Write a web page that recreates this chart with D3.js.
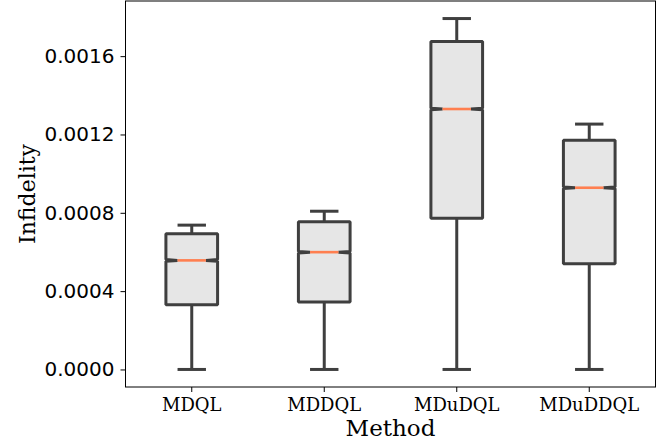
<!DOCTYPE html>
<html><head><meta charset="utf-8">
<script src="https://cdn.jsdelivr.net/npm/d3@7"></script>
<style>body{margin:0;background:#fff}svg{display:block}</style>
</head><body>
<script>
const categories = ["MDQL", "MDDQL", "MDuDQL", "MDuDDQL"];
const whiskerLow = [0, 0, 0, 0];
const q1 = [0.000330, 0.000344, 0.000772, 0.000540];
const median = [0.000557, 0.000599, 0.001330, 0.000928];
const q3 = [0.000693, 0.000754, 0.001675, 0.001171];
const whiskerHigh = [0.000737, 0.000808, 0.001792, 0.001253];
const notchHalf = [0.000004, 0.000004, 0.000004, 0.000004];
const yTicks = [0, 0.0004, 0.0008, 0.0012, 0.0016];

const W = 672, H = 443;
const mLeft = 125.5, mRight = 655.5, mTop = 1, mBottom = 387;
const svg = d3.select("body").append("svg").attr("width", W).attr("height", H);

const x = d3.scaleBand().domain(categories).range([mLeft, mRight]).padding(0);
const dmax = d3.max(whiskerHigh), dmin = d3.min(whiskerLow);
const pad = (dmax - dmin) * 0.05;
const y = d3.scaleLinear().domain([dmin - pad, dmax + pad]).range([mBottom, mTop]);

const boxW = x.bandwidth() * 0.39;
const capW = boxW * 0.55;
const stroke = "#3f3f3f";

const data = categories.map((c, i) => ({c, lo: whiskerLow[i], q1: q1[i], med: median[i], q3: q3[i], hi: whiskerHigh[i], nh: notchHalf[i]}));

const g = svg.append("g");
data.forEach(d => {
  const cx = x(d.c) + x.bandwidth() / 2;
  const l = cx - boxW / 2, r = cx + boxW / 2;
  const il = cx - capW / 2, ir = cx + capW / 2;
  g.append("line").attr("x1", cx).attr("x2", cx).attr("y1", y(d.q1)).attr("y2", y(d.lo)).attr("stroke", stroke).attr("stroke-width", 3);
  g.append("line").attr("x1", cx).attr("x2", cx).attr("y1", y(d.q3)).attr("y2", y(d.hi)).attr("stroke", stroke).attr("stroke-width", 3);
  g.append("line").attr("x1", il).attr("x2", ir).attr("y1", y(d.lo)).attr("y2", y(d.lo)).attr("stroke", stroke).attr("stroke-width", 3);
  g.append("line").attr("x1", il).attr("x2", ir).attr("y1", y(d.hi)).attr("y2", y(d.hi)).attr("stroke", stroke).attr("stroke-width", 3);
  const p = d3.path();
  p.moveTo(l, y(d.q1));
  p.lineTo(l, y(d.med - d.nh));
  p.lineTo(il, y(d.med));
  p.lineTo(l, y(d.med + d.nh));
  p.lineTo(l, y(d.q3));
  p.lineTo(r, y(d.q3));
  p.lineTo(r, y(d.med + d.nh));
  p.lineTo(ir, y(d.med));
  p.lineTo(r, y(d.med - d.nh));
  p.lineTo(r, y(d.q1));
  p.closePath();
  g.append("path").attr("d", p.toString()).attr("fill", "#e6e6e6").attr("stroke", stroke).attr("stroke-width", 3).attr("stroke-linejoin", "bevel");
  g.append("line").attr("x1", il).attr("x2", ir).attr("y1", y(d.med)).attr("y2", y(d.med)).attr("stroke", "#ff7f50").attr("stroke-width", 2.6);
});

const yAxis = d3.axisLeft(y).tickValues(yTicks).tickFormat(d3.format(".4f")).tickSize(5).tickPadding(6);
const ya = svg.append("g").attr("transform", `translate(${mLeft},0)`).call(yAxis);
ya.select(".domain").remove();
ya.selectAll("text").attr("font-family", "DejaVu Sans").attr("font-size", 20).attr("fill", "#000");
ya.selectAll("line").attr("stroke", "#000");

const xAxis = d3.axisBottom(x).tickSize(5).tickPadding(6);
const xa = svg.append("g").attr("transform", `translate(0,${mBottom})`).call(xAxis);
xa.select(".domain").remove();
xa.selectAll("text").attr("font-family", "DejaVu Serif").attr("font-size", 18).attr("fill", "#000");
xa.selectAll("line").attr("stroke", "#000");

svg.append("rect").attr("x", mLeft).attr("y", mTop).attr("width", mRight - mLeft).attr("height", mBottom - mTop)
  .attr("fill", "none").attr("stroke", "#000").attr("stroke-width", 1);

svg.append("text").attr("x", (mLeft + mRight) / 2).attr("y", 436).attr("text-anchor", "middle")
  .attr("font-family", "DejaVu Serif").attr("font-size", 23).text("Method");
svg.append("text").attr("transform", `translate(35,${(mTop + mBottom) / 2}) rotate(-90)`).attr("text-anchor", "middle")
  .attr("font-family", "DejaVu Serif").attr("font-size", 22).text("Infidelity");
</script>
</body></html>
